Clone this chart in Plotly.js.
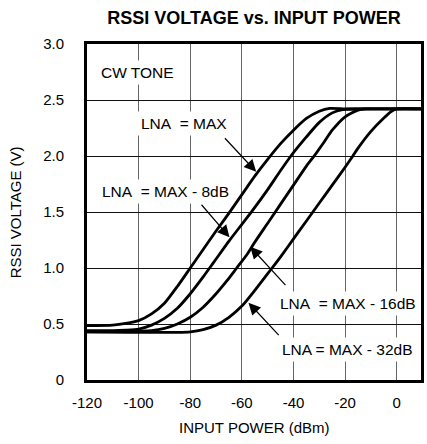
<!DOCTYPE html>
<html>
<head>
<meta charset="utf-8">
<script src="https://cdn.plot.ly/plotly-3.0.1.min.js"></script>
<style>html,body{margin:0;padding:0;background:#fff;}#chart{width:427px;height:444px;}</style>
</head>
<body>
<div id="chart"></div>
<script>
// Input power (dBm) and RSSI voltage (V) for each LNA setting
const pwrMax   = [-120,-110,-105,-100,-95,-90,-85,-80,-75,-70,-65,-60,-55,-50,-45,-40,-35,-30,-26,-20,-10,0,9.4];
const vMax     = [0.485,0.49,0.505,0.53,0.59,0.685,0.835,1.0,1.165,1.33,1.49,1.655,1.82,1.97,2.11,2.23,2.335,2.40,2.425,2.42,2.42,2.42,2.42];

const pwrMax8  = [-120,-110,-105,-100,-95,-90,-85,-80,-75,-72.5,-70,-65,-60,-56,-50,-45,-41,-35,-30,-25,-21,-15,0,9.4];
const vMax8    = [0.44,0.44,0.445,0.455,0.49,0.55,0.64,0.77,0.92,1.0,1.08,1.24,1.39,1.51,1.70,1.87,2.0,2.17,2.30,2.385,2.415,2.42,2.42,2.42];

const pwrMax16 = [-120,-110,-100,-95,-90,-85,-80,-75,-70,-66,-62,-58,-55,-50,-45,-40,-35,-32,-28,-25,-20,-15,-12,0,9.4];
const vMax16   = [0.43,0.43,0.435,0.44,0.46,0.50,0.56,0.65,0.77,0.88,1.0,1.12,1.23,1.40,1.57,1.74,1.91,2.0,2.13,2.23,2.35,2.41,2.42,2.42,2.42];

const pwrMax32 = [-120,-110,-100,-90,-85,-80,-75,-70,-65,-60,-55,-52,-48.3,-45,-40,-35,-30,-25,-20,-17,-15,-10,-5,-2,0,9.4];
const vMax32   = [0.43,0.428,0.425,0.425,0.425,0.43,0.45,0.49,0.56,0.66,0.80,0.89,1.0,1.10,1.26,1.42,1.58,1.74,1.90,2.0,2.07,2.22,2.34,2.40,2.42,2.42];

const xTickVals = [-120,-100,-80,-60,-40,-20,0];
const xTickText = ['-120','-100','-80','-60','-40','-20','0'];
const yTickVals = [0,0.5,1.0,1.5,2.0,2.5,3.0];
const yTickText = ['0','0.5','1.0','1.5','2.0','2.5','3.0'];

const FONT = 'Liberation Sans Narrow, Arial Narrow, Liberation Sans, Arial, sans-serif';
const NB = '\u00A0';

function curve(x, y) {
  return {x: x, y: y, type: 'scatter', mode: 'lines',
          line: {color: '#000', width: 2.8, shape: 'spline', smoothing: 0.6},
          hoverinfo: 'skip', showlegend: false};
}

const data = [curve(pwrMax32, vMax32), curve(pwrMax16, vMax16), curve(pwrMax8, vMax8), curve(pwrMax, vMax)];

function label(text, x, y, xanchor) {
  return {text: text, x: x, y: y, xref: 'x', yref: 'y', xanchor: xanchor || 'center', yanchor: 'middle',
          showarrow: false, bgcolor: '#fff', borderpad: 3, font: {family: FONT, size: 15.5, color: '#000'}};
}
function arrow(tx, ty, hx, hy) {
  return {text: '', x: hx, y: hy, ax: tx, ay: ty, xref: 'x', yref: 'y', axref: 'x', ayref: 'y',
          showarrow: true, arrowhead: 2, arrowsize: 2.0, arrowwidth: 1.2, arrowcolor: '#000', standoff: 0, startstandoff: 0};
}

const annotations = [
  label('CW TONE', -116.0, 2.744, 'left'),
  label('LNA' + NB + NB + '= MAX', -82.3, 2.292),
  label('LNA' + NB + NB + '= MAX - 8dB', -89.5, 1.681),
  label('LNA' + NB + NB + '= MAX - 16dB', -18.8, 0.685),
  label('LNA = MAX - 32dB', -19.2, 0.268),
  arrow(-67.1, 2.172, -54.45, 1.859),
  arrow(-76.14, 1.578, -64.79, 1.274),
  arrow(-42.57, 0.833, -56.78, 1.19),
  arrow(-45.17, 0.387, -57.44, 0.69),
  {text: 'RSSI VOLTAGE (V)', xref: 'paper', yref: 'paper', x: -0.2145, y: 0.5, textangle: -90,
   xanchor: 'center', yanchor: 'middle', showarrow: false, font: {family: FONT, size: 15, color: '#000'}},
  {text: 'INPUT POWER (dBm)', xref: 'paper', yref: 'paper', x: 0.5, y: -0.140,
   xanchor: 'center', yanchor: 'middle', showarrow: false, font: {family: FONT, size: 15, color: '#000'}}
];

const layout = {
  width: 427, height: 444,
  margin: {l: 87, r: 6, t: 44, b: 64, pad: 0},
  paper_bgcolor: '#fff', plot_bgcolor: '#fff',
  font: {family: FONT, size: 15, color: '#000'},
  title: {text: '<b>RSSI VOLTAGE vs. INPUT POWER</b>', x: 0.5, xref: 'paper', y: 1 - 18/444, yref: 'container',
          xanchor: 'center', yanchor: 'middle', font: {family: FONT, size: 18, color: '#000'}},
  xaxis: {range: [-120, 9.4], tickmode: 'array', tickvals: xTickVals, ticktext: xTickText,
          showgrid: true, gridcolor: '#666', gridwidth: 1, zeroline: false,
          showline: true, mirror: true, linecolor: '#000', linewidth: 3,
          ticks: '', ticklabelstandoff: 7, tickfont: {family: FONT, size: 15, color: '#000'}},
  yaxis: {range: [0, 3.0], tickmode: 'array', tickvals: yTickVals, ticktext: yTickText,
          showgrid: true, gridcolor: '#111', gridwidth: 1, zeroline: false,
          showline: true, mirror: true, linecolor: '#000', linewidth: 3,
          ticks: '', ticklabelstandoff: 17, tickfont: {family: FONT, size: 15, color: '#000'}},
  annotations: annotations,
  showlegend: false
};

Plotly.newPlot('chart', data, layout, {staticPlot: true, displayModeBar: false});
</script>
</body>
</html>
